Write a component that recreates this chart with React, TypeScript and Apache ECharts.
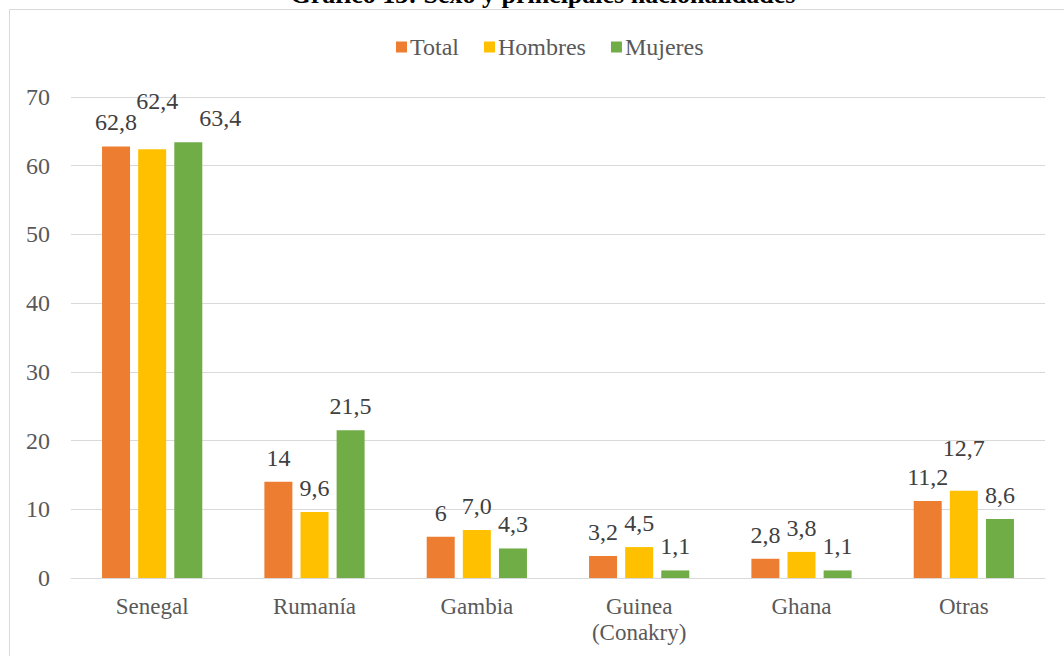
import React, { useEffect, useRef } from "react";
import * as echarts from "echarts";

const categories = ["Senegal", "Rumanía", "Gambia", "Guinea\n(Conakry)", "Ghana", "Otras"];
const totalValues = [62.8, 14, 6, 3.2, 2.8, 11.2];
const hombresValues = [62.4, 9.6, 7.0, 4.5, 3.8, 12.7];
const mujeresValues = [63.4, 21.5, 4.3, 1.1, 1.1, 8.6];
const totalLabels = ["62,8", "14", "6", "3,2", "2,8", "11,2"];
const hombresLabels = ["62,4", "9,6", "7,0", "4,5", "3,8", "12,7"];
const mujeresLabels = ["63,4", "21,5", "4,3", "1,1", "1,1", "8,6"];
const seriesNames = ["Total", "Hombres", "Mujeres"];
const titleText = "Gráfico 13: Sexo y principales nacionalidades";

const FONT = "'Liberation Serif', 'Times New Roman', serif";

export default function App() {
  const ref = useRef<HTMLDivElement>(null);
  useEffect(() => {
    if (!ref.current) return;
    const chart = echarts.init(ref.current, null, { renderer: "svg" });
    const mk = (vals: number[], labels: string[], shift: number[][] = []) =>
      vals.map((v, i) => ({
        value: v,
        label: { formatter: labels[i], offset: shift[i] || [0, 0] },
      }));
    const labelStyle = {
      show: true,
      position: "top",
      distance: 12,
      fontFamily: FONT,
      fontSize: 24,
      color: "#404040",
    };
    chart.setOption({
      animation: false,
      textStyle: { fontFamily: FONT },
      graphic: [
        {
          type: "rect",
          shape: { x: 9.5, y: 9.5, width: 1200, height: 800 },
          style: { fill: "none", stroke: "#d9d9d9", lineWidth: 1 },
          silent: true,
        },
        {
          type: "text",
          x: 543,
          y: -19,
          style: {
            text: titleText,
            fontFamily: FONT,
            fontSize: 26,
            fontWeight: "bold",
            fill: "#000000",
            align: "center",
            verticalAlign: "top",
          },
        },
      ],
      legend: {
        top: 30,
        left: 391,
        itemWidth: 11,
        itemHeight: 11,
        itemGap: 25,
        icon: "rect",
        textStyle: { fontFamily: FONT, fontSize: 24, color: "#595959", padding: [0, 0, 0, -2] },
        data: seriesNames,
      },
      grid: { left: 71, right: 19, top: 97, bottom: 78, containLabel: false },
      xAxis: {
        type: "category",
        data: categories,
        axisLine: { lineStyle: { color: "#d9d9d9", width: 1 } },
        axisTick: { show: false },
        axisLabel: {
          fontFamily: FONT,
          fontSize: 23,
          color: "#595959",
          margin: 15,
          lineHeight: 26,
          interval: 0,
        },
      },
      yAxis: {
        type: "value",
        min: 0,
        max: 70,
        interval: 10,
        axisLine: { show: false },
        axisTick: { show: false },
        splitLine: { lineStyle: { color: "#d9d9d9", width: 1 } },
        axisLabel: { fontFamily: FONT, fontSize: 24, color: "#595959", margin: 21 },
      },
      series: [
        {
          name: seriesNames[0],
          type: "bar",
          barWidth: 28,
          barGap: "29%",
          itemStyle: { color: "#ED7D31" },
          label: labelStyle,
          data: mk(totalValues, totalLabels),
        },
        {
          name: seriesNames[1],
          type: "bar",
          barWidth: 28,
          barGap: "29%",
          itemStyle: { color: "#FFC000" },
          label: labelStyle,
          data: mk(hombresValues, hombresLabels, [[5, -24], [0, 0], [0, 0], [0, 0], [0, 0], [0, -19]]),
        },
        {
          name: seriesNames[2],
          type: "bar",
          barWidth: 28,
          barGap: "29%",
          itemStyle: { color: "#70AD47" },
          label: labelStyle,
          data: mk(mujeresValues, mujeresLabels, [[32, 0]]),
        },
      ],
    });
    return () => chart.dispose();
  }, []);
  return (
    <div
      ref={ref}
      style={{ position: "fixed", left: 0, top: 0, width: 1064, height: 656, background: "#ffffff" }}
    />
  );
}
